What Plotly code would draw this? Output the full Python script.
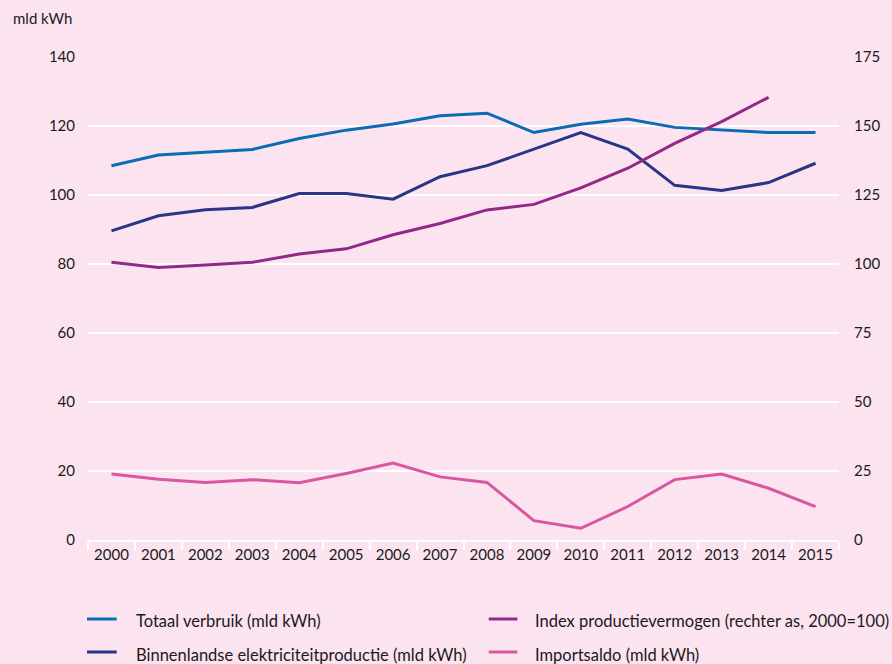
import plotly.graph_objects as go

# Years and series (mld kWh, index 2000=100 on the right axis)
years = [str(y) for y in range(2000, 2016)]
totaal_verbruik = [108.5, 111.6, 112.4, 113.2, 116.4, 118.8, 120.6, 123.0,
                   123.7, 118.1, 120.5, 122.0, 119.6, 118.8, 118.1, 118.1]
binnenlandse_productie = [89.6, 94.0, 95.7, 96.4, 100.4, 100.4, 98.8, 105.3,
                          108.5, 113.3, 118.1, 113.3, 102.8, 101.3, 103.6, 109.2]
index_vermogen = [100.6, 98.7, 99.6, 100.6, 103.6, 105.5, 110.6, 114.7,
                  119.6, 121.6, 127.6, 134.7, 143.7, 151.6, 160.4, None]
importsaldo = [19.1, 17.6, 16.7, 17.5, 16.6, 19.3, 22.3, 18.3,
               16.7, 5.6, 3.4, 9.7, 17.5, 19.1, 15.0, 9.7]

left_ticks = [0, 20, 40, 60, 80, 100, 120, 140]
right_ticks = [0, 25, 50, 75, 100, 125, 150, 175]

series_names = ["Totaal verbruik (mld kWh)",
                "Binnenlandse elektriciteitproductie (mld kWh)",
                "Index productievermogen (rechter as, 2000=100)",
                "Importsaldo (mld kWh)"]
series_colors = ["#0a6db2", "#2b3587", "#93288a", "#d9579f"]

BG = "#fbe4f0"
FONT = "Lato"
TXT = "#1a1a1a"

W, H = 892, 664
ML, MR, MT, MB = 88, 45, 57, 124
PW, PH = W - ML - MR, H - MT - MB


def px_x(px):
    """Pixel column -> paper x."""
    return (px - ML) / PW


def px_y(py):
    """Pixel row -> paper y."""
    return (H - MB - py) / PH


fig = go.Figure()
fig.add_trace(go.Scatter(x=years, y=totaal_verbruik, mode="lines", name=series_names[0],
                         line=dict(color=series_colors[0], width=3)))
fig.add_trace(go.Scatter(x=years, y=binnenlandse_productie, mode="lines", name=series_names[1],
                         line=dict(color=series_colors[1], width=3)))
fig.add_trace(go.Scatter(x=years, y=index_vermogen, mode="lines", yaxis="y2", name=series_names[2],
                         line=dict(color=series_colors[2], width=3)))
fig.add_trace(go.Scatter(x=years, y=importsaldo, mode="lines", name=series_names[3],
                         line=dict(color=series_colors[3], width=3)))

# Two-column key below the chart: (column, row) for each series
key_slots = [(0, 0), (0, 1), (1, 0), (1, 1)]
col_line = [(87, 117), (493, 522)]
col_text = [134, 538]
row_line_y = [619, 652]
row_text_y = [621, 655]

shapes, annotations = [], []
for name, color, (c, r) in zip(series_names, series_colors, key_slots):
    x0, x1 = col_line[c]
    shapes.append(dict(type="line", xref="paper", yref="paper",
                       x0=px_x(x0), x1=px_x(x1),
                       y0=px_y(row_line_y[r]), y1=px_y(row_line_y[r]),
                       line=dict(color=color, width=3)))
    annotations.append(dict(text=name, xref="paper", yref="paper",
                            x=px_x(col_text[c]), y=px_y(row_text_y[r]),
                            xanchor="left", yanchor="middle", showarrow=False,
                            font=dict(family=FONT, size=16.5, color=TXT)))

annotations.append(dict(text="mld kWh", xref="paper", yref="paper",
                        x=px_x(10), y=px_y(18), xanchor="left", yanchor="middle",
                        showarrow=False, font=dict(family=FONT, size=15, color=TXT)))

fig.update_layout(
    width=W, height=H,
    paper_bgcolor=BG, plot_bgcolor=BG,
    margin=dict(l=ML, r=MR, t=MT, b=MB),
    font=dict(family=FONT, size=15, color=TXT),
    showlegend=False,
    xaxis=dict(type="category", tickson="boundaries", range=[-0.5, 15.5],
               showgrid=False, zeroline=False,
               showline=True, linecolor="white", linewidth=2,
               ticks="outside", ticklen=8, tickwidth=2, tickcolor="white",
               tickfont=dict(family=FONT, size=15, color=TXT)),
    yaxis=dict(range=[0, 140], tickvals=left_ticks, ticktext=[str(v) for v in left_ticks],
               showgrid=True, gridcolor="white", gridwidth=2, zeroline=False,
               showline=False, ticks="", ticklabelstandoff=12,
               tickfont=dict(family=FONT, size=15, color=TXT)),
    yaxis2=dict(range=[0, 175], tickvals=right_ticks, ticktext=[str(v) for v in right_ticks],
                overlaying="y", side="right", showgrid=False, zeroline=False,
                showline=False, ticks="", ticklabelstandoff=14,
                tickfont=dict(family=FONT, size=15, color=TXT)),
    shapes=shapes,
    annotations=annotations,
)

fig.write_html("out.html")
